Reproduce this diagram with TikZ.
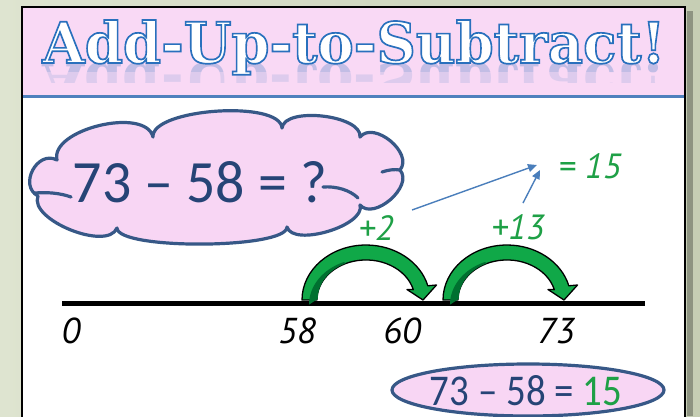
\documentclass[tikz,border=0pt]{standalone}
\usepackage{fontspec}
\usepackage{graphicx}
\setmainfont{Carlito}
\newfontfamily\titlefont{DejaVu Serif}
\newfontfamily\handfont{PT Sans}
\usetikzlibrary{shapes.geometric,arrows.meta,calc}
\definecolor{bgA}{RGB}{222,228,208}
\definecolor{bgB}{RGB}{198,206,180}
\definecolor{pinkband}{RGB}{249,217,245}
\definecolor{bandline}{RGB}{79,129,189}
\definecolor{cloudpink}{RGB}{248,214,244}
\definecolor{navy}{RGB}{55,88,135}
\definecolor{txtblue}{RGB}{38,68,118}
\definecolor{gtext}{RGB}{30,160,70}
\definecolor{arcgreen}{RGB}{16,168,72}
\definecolor{arcdark}{RGB}{0,112,48}
\definecolor{ptrblue}{RGB}{74,126,187}
\definecolor{titleblue}{RGB}{40,112,188}
\tikzset{
  axislabel/.style={inner sep=0, anchor=base, font=\handfont\itshape\fontsize{36}{40}\selectfont, text=black},
  steplabel/.style={inner sep=0, anchor=base, font=\handfont\itshape\fontsize{35}{40}\selectfont, text=gtext},
  pointer/.style={draw=ptrblue, line width=1.4, -{Triangle[length=9pt,width=8pt]}},
  jumpfill/.style={fill=arcgreen, draw=black, line width=1.3, line join=round},
  eqtext/.style={inner sep=0, anchor=base, text=txtblue},
  bubble/.style={draw=navy, fill=cloudpink, line width=3.2, line join=round, inner sep=0},
  curl/.style={draw=navy, line width=3.2, line cap=round}
}
\newcommand\titletext{Add-Up-to-Subtract!}
\newcommand\greenjump[1]{%
  \fill[jumpfill] ({#1-64},300) arc[start angle=180, end angle=345, x radius=64, y radius=55]
    -- ({#1+70.5},285) -- ({#1+57},300) -- ({#1+41},289.5) -- ({#1+47.3},289.6)
    arc[start angle=345, end angle=180, x radius=49, y radius=40] -- cycle;
  \fill[arcdark] ({#1-48.3},299) arc[start angle=180, end angle=245, x radius=48.3, y radius=39.3]
    -- ({#1-22},262) arc[start angle=248, end angle=180, x radius=56, y radius=46] -- cycle;
}
\begin{document}
\begin{tikzpicture}[x=1pt,y=-1pt]
\useasboundingbox (0,0) rectangle (700,416);
% background and frame
\shade[left color=bgA, right color=bgB] (0,0) rectangle (700,416);
\fill[black, opacity=0.28] (687,11) rectangle (693,416);
\draw[line width=2, fill=white] (22,7) rectangle (685,430);
\fill[pinkband] (23,8) rectangle (684,95);
\draw[bandline, line width=3] (23,96.5) -- (684,96.5);
% title reflection
\begin{scope}
  \clip (23,63.5) rectangle (684,82);
  \node[inner sep=0, anchor=base, yscale=-1, opacity=0.13] at (354,63)
    {\resizebox{623pt}{43pt}{\titlefont\bfseries\color{titleblue}\titletext}};
\end{scope}
\begin{scope}
  \clip (23,63.5) rectangle (684,71);
  \node[inner sep=0, anchor=base, yscale=-1, opacity=0.15] at (354,63)
    {\resizebox{623pt}{43pt}{\titlefont\bfseries\color{titleblue}\titletext}};
\end{scope}
% title
\node (title) [inner sep=0, anchor=base] at (354,63)
  {\resizebox{623pt}{43pt}{\titlefont\bfseries{\color{white}\special{pdf:literal direct 0.16 0.44 0.74 RG 0.3 w 2 Tr}\titletext\special{pdf:literal direct 0 Tr}}}};
% cloud
\coordinate (J1) at (57,160);
\coordinate (J2) at (153,137);
\coordinate (J3) at (282,128);
\coordinate (J4) at (360,137);
\coordinate (J5) at (400,170);
\coordinate (J6) at (360,205);
\coordinate (J7) at (287,227);
\coordinate (J9) at (117,228);
\coordinate (J10) at (38,196);
\path[bubble] (J1)
  .. controls ($(J1)!0.32!90:(J2)$) and ($(J2)!0.32!-90:(J1)$) .. (J2)
  .. controls ($(J2)!0.22!90:(J3)$) and ($(J3)!0.22!-90:(J2)$) .. (J3)
  .. controls ($(J3)!0.28!90:(J4)$) and ($(J4)!0.28!-90:(J3)$) .. (J4)
  .. controls ($(J4)!0.42!90:(J5)$) and ($(J5)!0.42!-90:(J4)$) .. (J5)
  .. controls ($(J5)!0.4!90:(J6)$) and ($(J6)!0.4!-90:(J5)$) .. (J6)
  .. controls ($(J6)!0.28!90:(J7)$) and ($(J7)!0.28!-90:(J6)$) .. (J7)
  .. controls ($(J7)!0.13!90:(J9)$) and ($(J9)!0.13!-90:(J7)$) .. (J9)
  .. controls ($(J9)!0.3!90:(J10)$) and ($(J10)!0.3!-90:(J9)$) .. (J10)
  .. controls ($(J10)!0.55!90:(J1)$) and ($(J1)!0.55!-90:(J10)$) .. (J1) -- cycle;
\node (cloud) [inner sep=0] at (214,180) {};
\draw[curl] (35,193) .. controls (47,192) and (60,193) .. (71,197);
\draw[curl] (323,187) .. controls (336,186) and (350,190) .. (358,198);
\draw[curl] (382,172) .. controls (388,170) and (394,169) .. (400,170);
\node (question) [eqtext] at (200,202) {\resizebox{254pt}{41pt}{73 – 58 = ?}};
% number line
\draw[line width=5] (62,303) coordinate (lineA) -- (645,303) coordinate (lineB);
\greenjump{366}
\greenjump{507}
\node (n0) [axislabel] at (71,343) {0};
\node (n58) [axislabel] at (297,343) {58};
\node (n60) [axislabel] at (402,343) {60};
\node (n73) [axislabel] at (556,343) {73};
% step labels
\node (s2) [steplabel] at (376,240) {+2};
\node (s13) [steplabel] at (518,239) {+13};
\node (res) [steplabel] at (590,178) {= 15};
\coordinate (p1s) at (412,210);
\coordinate (p1e) at (537,165);
\coordinate (p2s) at (523,203);
\coordinate (p2e) at (540,170);
\draw[pointer] (p1s) -- (p1e);
\draw[pointer] (p2s) -- (p2e);
% answer ellipse
\node (answer) [bubble, ellipse, minimum width=272, minimum height=52] at (528,390) {};
\node (answertext) [eqtext] at (526,405) {\resizebox{192pt}{30pt}{73 – 58 = \textcolor{gtext}{15}}};
\end{tikzpicture}
\end{document}
